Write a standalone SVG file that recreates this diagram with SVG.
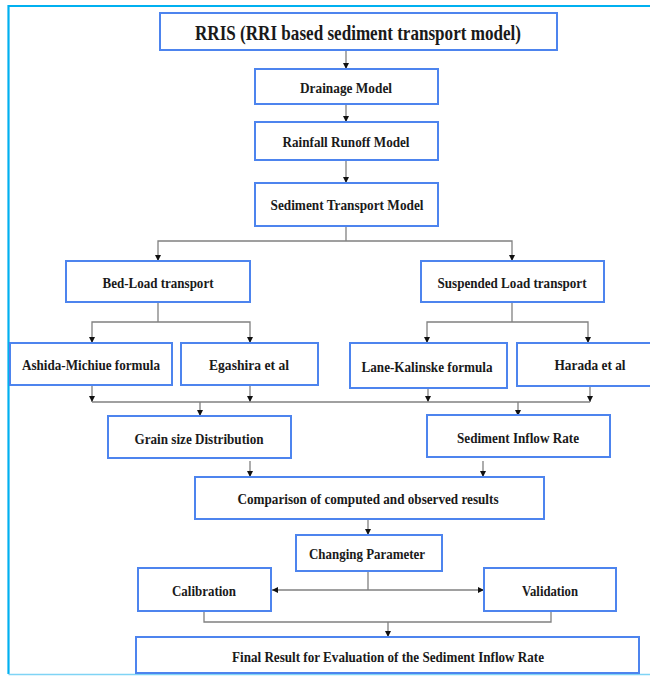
<svg xmlns="http://www.w3.org/2000/svg" width="650" height="676" viewBox="0 0 650 676">
<defs>
<marker id="ah" viewBox="0 0 10 10" refX="10" refY="5" markerWidth="6" markerHeight="6" markerUnits="userSpaceOnUse" orient="auto">
<path d="M0,0 L10,5 L0,10 z" fill="#111"/>
</marker>
</defs>
<style>
.box{fill:#fff;stroke:#4D84EE;stroke-width:2}
.t{font-family:"Liberation Serif","Times New Roman",serif;font-weight:bold;fill:#1a1a1a;text-anchor:middle;font-size:15.5px}
.c{fill:none;stroke:#808080;stroke-width:1.3}
.a{marker-end:url(#ah)}
</style>
<rect x="0" y="0" width="650" height="676" fill="#fff"/>
<path d="M8.5,674 V6 H660" fill="none" stroke="#00B0F0" stroke-width="2.2"/>
<path d="M8.5,674.5 H660" fill="none" stroke="#7FD4F5" stroke-width="1.5"/>

<g id="connectors">
<path class="c a" d="M346,51 V69"/>
<path class="c a" d="M346,105 V122"/>
<path class="c a" d="M346,161 V183"/>
<path class="c" d="M346,227 V241"/>
<path class="c a" d="M346,241 H158 V261"/>
<path class="c a" d="M346,241 H512 V261"/>
<path class="c" d="M158,303 V322"/>
<path class="c a" d="M158,322 H92 V343"/>
<path class="c a" d="M158,322 H250 V343"/>
<path class="c" d="M512,303 V322"/>
<path class="c a" d="M512,322 H427 V343"/>
<path class="c a" d="M512,322 H588 V343"/>
<path class="c a" d="M92,386 V402"/>
<path class="c a" d="M250,386 V402"/>
<path class="c a" d="M428,389 V402"/>
<path class="c a" d="M590,387 V402"/>
<path class="c" d="M92,402 H590"/>
<path class="c a" d="M200,402 V416"/>
<path class="c a" d="M518,402 V416"/>
<path class="c a" d="M250,461 V477"/>
<path class="c a" d="M483,461 V477"/>
<path class="c a" d="M368,520 V535"/>
<path class="c" d="M368,572 V590"/>
<path class="c a" d="M368,590 H272"/>
<path class="c a" d="M368,590 H484"/>
<path class="c" d="M204,612 V622 H551 V612"/>
<path class="c a" d="M388,622 V637"/>
</g>

<g id="rris"><rect class="box" x="160" y="13" width="397" height="37"/>
<text class="t" x="358" y="39.5" style="font-size:22px" textLength="326" lengthAdjust="spacingAndGlyphs">RRIS (RRI based sediment transport model)</text></g>
<g id="drainage"><rect class="box" x="255" y="69" width="183" height="35"/>
<text class="t" x="346" y="92.5" textLength="92" lengthAdjust="spacingAndGlyphs">Drainage Model</text></g>
<g id="rainfall"><rect class="box" x="255" y="122" width="183" height="38"/>
<text class="t" x="346" y="146.5" textLength="127" lengthAdjust="spacingAndGlyphs">Rainfall Runoff Model</text></g>
<g id="stm"><rect class="box" x="255" y="183" width="183" height="43"/>
<text class="t" x="347" y="210" textLength="153" lengthAdjust="spacingAndGlyphs">Sediment Transport  Model</text></g>
<g id="bedload"><rect class="box" x="66" y="261" width="184" height="41"/>
<text class="t" x="158" y="288" textLength="111" lengthAdjust="spacingAndGlyphs">Bed-Load transport</text></g>
<g id="suspended"><rect class="box" x="421" y="261" width="183" height="41"/>
<text class="t" x="512" y="288" textLength="149" lengthAdjust="spacingAndGlyphs">Suspended Load transport</text></g>
<g id="ashida"><rect class="box" x="10" y="343" width="162" height="42"/>
<text class="t" x="91" y="370" textLength="138" lengthAdjust="spacingAndGlyphs">Ashida-Michiue formula</text></g>
<g id="egashira"><rect class="box" x="181" y="343" width="137" height="42"/>
<text class="t" x="249" y="370" textLength="80" lengthAdjust="spacingAndGlyphs">Egashira et al</text></g>
<g id="lane"><rect class="box" x="350" y="343" width="157" height="45"/>
<text class="t" x="427" y="371.5" textLength="131" lengthAdjust="spacingAndGlyphs">Lane-Kalinske formula</text></g>
<g id="harada"><rect class="box" x="517" y="343" width="136" height="43"/>
<text class="t" x="590" y="370" textLength="71" lengthAdjust="spacingAndGlyphs">Harada et al</text></g>
<g id="grain"><rect class="box" x="108" y="416" width="183" height="42"/>
<text class="t" x="199" y="443.5" textLength="129" lengthAdjust="spacingAndGlyphs">Grain size Distribution</text></g>
<g id="inflow"><rect class="box" x="427" y="415" width="183" height="42"/>
<text class="t" x="518" y="442.5" textLength="122" lengthAdjust="spacingAndGlyphs">Sediment Inflow Rate</text></g>
<g id="comparison"><rect class="box" x="195" y="477" width="349" height="42"/>
<text class="t" x="368" y="504" textLength="261" lengthAdjust="spacingAndGlyphs">Comparison of computed and observed results</text></g>
<g id="changing"><rect class="box" x="296" y="535" width="146" height="36"/>
<text class="t" x="367" y="559" textLength="116" lengthAdjust="spacingAndGlyphs">Changing Parameter</text></g>
<g id="calibration"><rect class="box" x="138" y="568" width="133" height="43"/>
<text class="t" x="204" y="596" textLength="64" lengthAdjust="spacingAndGlyphs">Calibration</text></g>
<g id="validation"><rect class="box" x="484" y="568" width="132" height="43"/>
<text class="t" x="550" y="596" textLength="56" lengthAdjust="spacingAndGlyphs">Validation</text></g>
<g id="final"><rect class="box" x="136" y="637" width="503" height="36"/>
<text class="t" x="388" y="662" textLength="312" lengthAdjust="spacingAndGlyphs">Final Result for Evaluation of the Sediment Inflow Rate</text></g>
</svg>
